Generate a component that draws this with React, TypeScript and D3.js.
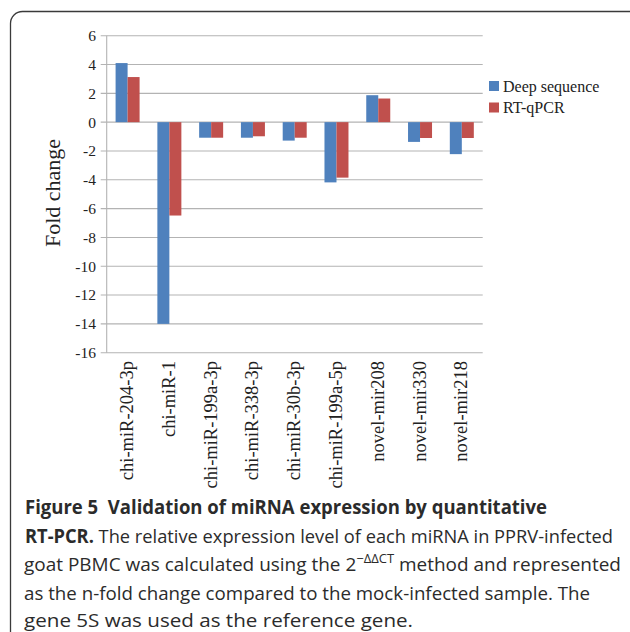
import React from "react";
import * as d3 from "d3";

const categories = [
  "chi-miR-204-3p",
  "chi-miR-1",
  "chi-miR-199a-3p",
  "chi-miR-338-3p",
  "chi-miR-30b-3p",
  "chi-miR-199a-5p",
  "novel-mir208",
  "novel-mir330",
  "novel-mir218",
];
const deepSequence = [4.1, -14.0, -1.08, -1.08, -1.28, -4.18, 1.87, -1.37, -2.22];
const rtqPCR = [3.13, -6.48, -1.08, -0.98, -1.08, -3.85, 1.64, -1.1, -1.1];
const seriesNames = ["Deep sequence", "RT-qPCR"];
const seriesColors = ["#4F81BD", "#C0504D"];
const yTicks = [6, 4, 2, 0, -2, -4, -6, -8, -10, -12, -14, -16];

const W = 630;
const H = 632;
const plotLeft = 106.7;
const plotRight = 482.7;
const plotTop = 35.7;
const plotBottom = 352.7;

export default function App() {
  const x = d3.scaleBand<string>().domain(categories).range([plotLeft, plotRight]).padding(0);
  const inner = d3
    .scaleBand<string>()
    .domain(seriesNames)
    .range([x.bandwidth() / 2 - 12, x.bandwidth() / 2 + 12])
    .padding(0);
  const y = d3.scaleLinear().domain([-16, 6]).range([plotBottom, plotTop]);
  const series = [deepSequence, rtqPCR];
  const serif = "'Liberation Serif', 'Times New Roman', serif";
  const sans = "'Open Sans', 'Noto Sans', sans-serif";

  return (
    <svg
      width={W}
      height={H}
      viewBox={`0 0 ${W} ${H}`}
      style={{ position: "absolute", left: 0, top: 0, background: "#fff" }}
    >
      <rect x={0} y={0} width={W} height={H} fill="#fff" />
      <rect x={10.5} y={11.5} width={640} height={640} rx={12} ry={12} fill="none" stroke="#3a3a3a" strokeWidth={1.3} />

      {/* gridlines */}
      {yTicks.map((t) => (
        <g key={t}>
          <line x1={plotLeft - 6} x2={plotRight} y1={y(t)} y2={y(t)} stroke="#b3b3b3" strokeWidth={1.1} />
          <text
            x={96}
            y={y(t)}
            dy="0.35em"
            textAnchor="end"
            fontFamily={serif}
            fontSize={15.5}
            fill="#222"
          >
            {t}
          </text>
        </g>
      ))}
      <line x1={plotLeft} x2={plotLeft} y1={plotTop} y2={plotBottom} stroke="#b3b3b3" strokeWidth={1.1} />

      {/* bars */}
      {series.map((vals, si) =>
        vals.map((v, i) => {
          const bx = (x(categories[i]) as number) + (inner(seriesNames[si]) as number);
          const y0 = y(0);
          const yv = y(v);
          return (
            <rect
              key={`${si}-${i}`}
              x={bx}
              y={Math.min(y0, yv)}
              width={inner.bandwidth()}
              height={Math.abs(yv - y0)}
              fill={seriesColors[si]}
            />
          );
        })
      )}

      {/* category labels */}
      {categories.map((c) => {
        const cx = (x(c) as number) + x.bandwidth() / 2 + 5.5;
        return (
          <text
            key={c}
            transform={`translate(${cx},${361}) rotate(-90)`}
            textAnchor="end"
            fontFamily={serif}
            fontSize={18.5}
            fill="#222"
          >
            {c}
          </text>
        );
      })}

      {/* y axis title */}
      <text
        transform={`translate(60,193) rotate(-90)`}
        textAnchor="middle"
        fontFamily={serif}
        fontSize={22}
        fill="#222"
      >
        Fold change
      </text>

      {/* legend */}
      {seriesNames.map((s, i) => (
        <g key={s}>
          <rect x={489} y={81 + i * 21.5} width={10} height={10} fill={seriesColors[i]} />
          <text x={503} y={91.5 + i * 21.5} fontFamily={serif} fontSize={16} fill="#222">
            {s}
          </text>
        </g>
      ))}

      {/* caption */}
      <g fontFamily={sans} fontSize={19} fill="#2b2b2b">
        <text x={25} y={514} textLength={522} lengthAdjust="spacingAndGlyphs" fontWeight={700} style={{ whiteSpace: "pre" }}>
          {"Figure 5  Validation of miRNA expression by quantitative"}
        </text>
        <text x={25} y={542.5} textLength={588} lengthAdjust="spacingAndGlyphs">
          <tspan fontWeight={700}>RT-PCR.</tspan>
          <tspan> The relative expression level of each miRNA in PPRV-infected</tspan>
        </text>
        <text x={24} y={571} textLength={597} lengthAdjust="spacingAndGlyphs">
          <tspan>goat PBMC was calculated using the 2</tspan>
          <tspan fontSize={13} dy={-8}>−ΔΔCT</tspan>
          <tspan dy={8}> method and represented</tspan>
        </text>
        <text x={24} y={599.5} textLength={566} lengthAdjust="spacingAndGlyphs">
          as the n-fold change compared to the mock-infected sample. The
        </text>
        <text x={24} y={627} textLength={389} lengthAdjust="spacingAndGlyphs">
          gene 5S was used as the reference gene.
        </text>
      </g>
    </svg>
  );
}
